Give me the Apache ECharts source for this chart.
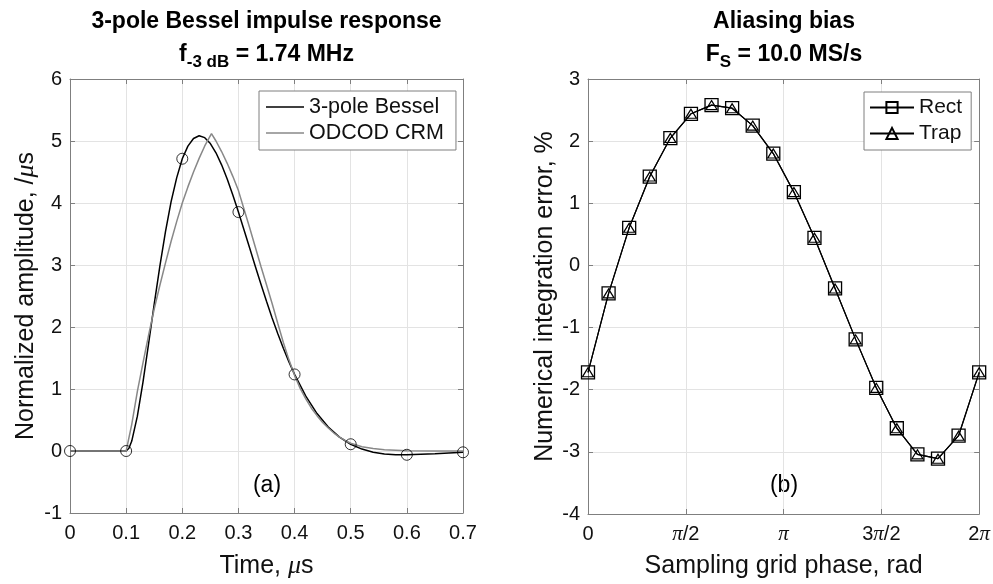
<!DOCTYPE html>
<html>
<head>
<meta charset="utf-8">
<script src="https://cdn.jsdelivr.net/npm/echarts@6/dist/echarts.min.js"></script>
<style>html,body{margin:0;padding:0;background:#fff}#c{width:993px;height:584px}</style>
</head>
<body>
<div id="c"></div>
<script>
// ---------- data (panel a) ----------
const tBessel = [0, 0.1, 0.105, 0.11, 0.12, 0.13, 0.14, 0.15, 0.16, 0.17, 0.18, 0.19, 0.20, 0.21, 0.22, 0.23, 0.24, 0.25, 0.26, 0.27, 0.28, 0.29, 0.30, 0.31, 0.32, 0.33, 0.34, 0.35, 0.36, 0.37, 0.38, 0.39, 0.40, 0.42, 0.44, 0.46, 0.48, 0.50, 0.52, 0.54, 0.56, 0.58, 0.60, 0.65, 0.70];
const vBessel = [0, 0, 0.045, 0.160, 0.562, 1.112, 1.733, 2.369, 2.979, 3.533, 4.017, 4.405, 4.714, 4.918, 5.041, 5.084, 5.054, 4.959, 4.810, 4.616, 4.386, 4.130, 3.854, 3.566, 3.273, 2.981, 2.693, 2.414, 2.147, 1.894, 1.657, 1.437, 1.235, 0.885, 0.604, 0.387, 0.224, 0.109, 0.031, -0.019, -0.047, -0.059, -0.061, -0.044, -0.021];
const tCrm = [0, 0.1, 0.11, 0.12, 0.13, 0.14, 0.15, 0.16, 0.17, 0.18, 0.19, 0.20, 0.21, 0.22, 0.23, 0.24, 0.252, 0.26, 0.27, 0.28, 0.29, 0.30, 0.31, 0.32, 0.33, 0.34, 0.35, 0.36, 0.37, 0.38, 0.39, 0.40, 0.41, 0.42, 0.43, 0.44, 0.45, 0.46, 0.47, 0.48, 0.49, 0.50, 0.52, 0.54, 0.56, 0.60, 0.65, 0.70];
const vCrm = [0, 0, 0.43, 0.96, 1.42, 1.87, 2.29, 2.67, 3.03, 3.38, 3.70, 4.0, 4.26, 4.5, 4.72, 4.92, 5.12, 5.0, 4.83, 4.64, 4.43, 4.2, 3.9, 3.6, 3.29, 2.98, 2.68, 2.38, 2.06, 1.75, 1.47, 1.22, 1.01, 0.84, 0.69, 0.57, 0.46, 0.37, 0.29, 0.225, 0.17, 0.125, 0.07, 0.04, 0.022, 0.006, 0.001, 0];
const tSamples = [0, 0.1, 0.2, 0.3, 0.4, 0.5, 0.6, 0.7];
const vSamples = [0, 0, 4.714, 3.854, 1.235, 0.109, -0.061, -0.021];

// ---------- data (panel b) ----------
const phase = [0, 0.3307, 0.6614, 0.9921, 1.3228, 1.6535, 1.9842, 2.3149, 2.6456, 2.9762, 3.3069, 3.6376, 3.9683, 4.2990, 4.6297, 4.9604, 5.2911, 5.6218, 5.9525, 6.2832];
const rectErr = [-1.72, -0.45, 0.605, 1.43, 2.05, 2.44, 2.58, 2.53, 2.25, 1.80, 1.18, 0.445, -0.37, -1.19, -1.97, -2.62, -3.04, -3.11, -2.74, -1.72];
const trapErr = [-1.72, -0.45, 0.605, 1.43, 2.05, 2.44, 2.58, 2.53, 2.25, 1.80, 1.18, 0.445, -0.37, -1.19, -1.97, -2.62, -3.04, -3.11, -2.74, -1.72];
const phaseTickLabels = ['0', '{p|π}/2', '{p|π}', '3{p|π}/2', '2{p|π}'];

const zip = (a, b) => a.map((x, i) => [x, b[i]]);
const FONT = 'Liberation Sans, Arial, Helvetica, sans-serif';
const SERIF = 'Liberation Serif, Times New Roman, serif';
const FRAME = '#7f7f7f';
const GRIDC = '#e3e3e3';
const TXT = '#111';
const TICK_FS = 20, NAME_FS = 25, TITLE_FS = 23;
const LINE_ICON = 'path://M0,0L40,0L40,1.6L0,1.6Z';

function baseAxis(extra) {
  return Object.assign({
    type: 'value',
    axisLine: { show: true, onZero: false, lineStyle: { color: FRAME, width: 1 } },
    axisTick: { show: true, inside: true, length: 5, lineStyle: { color: FRAME } },
    axisLabel: { show: true, color: TXT, fontSize: TICK_FS, fontFamily: FONT },
    splitLine: { show: true, lineStyle: { color: GRIDC, width: 1 } },
    nameTextStyle: { color: TXT, fontSize: NAME_FS, fontFamily: FONT }
  }, extra);
}
function mirrorAxis(extra) {
  return Object.assign({
    type: 'value',
    axisLine: { show: true, onZero: false, lineStyle: { color: FRAME, width: 1 } },
    axisTick: { show: true, inside: true, length: 5, lineStyle: { color: FRAME } },
    axisLabel: { show: false },
    splitLine: { show: false }
  }, extra);
}
const muRich = { m: { fontFamily: SERIF, fontStyle: 'italic', fontSize: NAME_FS + 1, color: TXT } };

const option = {
  animation: false,
  backgroundColor: '#fff',
  textStyle: { fontFamily: FONT },
  grid: [
    { left: 70, top: 79, width: 393, height: 436 },
    { left: 588, top: 79, width: 392, height: 436 }
  ],
  xAxis: [
    baseAxis({ gridIndex: 0, min: 0, max: 0.7, interval: 0.1, position: 'bottom',
      axisLabel: { color: TXT, fontSize: TICK_FS, fontFamily: FONT, margin: 10,
        formatter: v => v === 0 ? '0' : v.toFixed(1) },
      name: 'Time, {m|μ}s', nameLocation: 'middle', nameGap: 40,
      nameTextStyle: { color: TXT, fontSize: NAME_FS, fontFamily: FONT, rich: muRich } }),
    mirrorAxis({ gridIndex: 0, min: 0, max: 0.7, interval: 0.1, position: 'top' }),
    baseAxis({ gridIndex: 1, min: 0, max: 2 * Math.PI, interval: Math.PI / 2, position: 'bottom',
      axisLabel: { color: TXT, fontSize: TICK_FS, fontFamily: FONT, margin: 10,
        formatter: v => phaseTickLabels[Math.round(v / (Math.PI / 2))],
        rich: { p: { fontFamily: SERIF, fontStyle: 'italic', fontSize: TICK_FS + 1, color: TXT } } },
      name: 'Sampling grid phase, rad', nameLocation: 'middle', nameGap: 40 }),
    mirrorAxis({ gridIndex: 1, min: 0, max: 2 * Math.PI, interval: Math.PI / 2, position: 'top' })
  ],
  yAxis: [
    baseAxis({ gridIndex: 0, min: -1, max: 6, interval: 1, position: 'left',
      axisLabel: { color: TXT, fontSize: TICK_FS, fontFamily: FONT, margin: 8 },
      name: 'Normalized amplitude, /{m|μ}s', nameLocation: 'middle', nameGap: 31,
      nameTextStyle: { color: TXT, fontSize: NAME_FS, fontFamily: FONT, rich: muRich } }),
    mirrorAxis({ gridIndex: 0, min: -1, max: 6, interval: 1, position: 'right' }),
    baseAxis({ gridIndex: 1, min: -4, max: 3, interval: 1, position: 'left',
      axisLabel: { color: TXT, fontSize: TICK_FS, fontFamily: FONT, margin: 8 },
      name: 'Numerical integration error, %', nameLocation: 'middle', nameGap: 30 }),
    mirrorAxis({ gridIndex: 1, min: -4, max: 3, interval: 1, position: 'right' })
  ],
  legend: [
    { data: [{ name: '3-pole Bessel', icon: LINE_ICON }, { name: 'ODCOD CRM', icon: LINE_ICON }],
      orient: 'vertical', left: 259, top: 91,
      itemWidth: 38, itemHeight: 14, itemGap: 4, padding: [5, 12, 6, 7],
      borderColor: FRAME, borderWidth: 1, backgroundColor: '#fff',
      textStyle: { color: TXT, fontSize: 21.5, fontFamily: FONT }, selectedMode: false },
    { data: ['Rect', 'Trap'], orient: 'vertical', left: 864, top: 92,
      itemWidth: 44, itemHeight: 14, itemGap: 5, padding: [5, 9, 6, 5],
      borderColor: FRAME, borderWidth: 1, backgroundColor: '#fff',
      textStyle: { color: TXT, fontSize: 21, fontFamily: FONT }, selectedMode: false }
  ],
  series: [
    { name: '3-pole Bessel', type: 'line', xAxisIndex: 0, yAxisIndex: 0,
      data: zip(tBessel, vBessel), symbol: 'none', showSymbol: false,
      lineStyle: { color: '#000', width: 1.5 }, itemStyle: { color: '#000' }, z: 3 },
    { name: 'ODCOD CRM', type: 'line', xAxisIndex: 0, yAxisIndex: 0,
      data: zip(tCrm, vCrm), symbol: 'none', showSymbol: false,
      lineStyle: { color: '#888', width: 1.5 }, itemStyle: { color: '#888' }, z: 4 },
    { name: 'samples', type: 'scatter', xAxisIndex: 0, yAxisIndex: 0,
      data: zip(tSamples, vSamples), symbol: 'circle', symbolSize: 11,
      itemStyle: { color: 'rgba(0,0,0,0)', borderColor: '#000', borderWidth: 1 }, z: 5 },
    { name: 'Rect', type: 'line', xAxisIndex: 2, yAxisIndex: 2,
      data: zip(phase, rectErr), symbol: 'rect', symbolSize: 13, showAllSymbol: true,
      lineStyle: { color: '#000', width: 1.2 },
      itemStyle: { color: 'rgba(0,0,0,0)', borderColor: '#000', borderWidth: 1.3 }, z: 3 },
    { name: 'Trap', type: 'line', xAxisIndex: 2, yAxisIndex: 2,
      data: zip(phase, trapErr), symbol: 'triangle', symbolSize: [11, 9], showAllSymbol: true,
      lineStyle: { color: '#000', width: 1.2 },
      itemStyle: { color: 'rgba(0,0,0,0)', borderColor: '#000', borderWidth: 1.2 }, z: 4 }
  ],
  graphic: [
    { type: 'text', x: 266.5, y: 22, style: { text: '3-pole Bessel impulse response',
      font: 'bold ' + TITLE_FS + 'px ' + FONT, fill: '#000', align: 'center', verticalAlign: 'middle' } },
    { type: 'text', x: 266.5, y: 55, style: { text: '{b|f}{s|-3 dB}{b| = 1.74 MHz}',
      align: 'center', verticalAlign: 'middle', fill: '#000',
      rich: { b: { font: 'bold ' + TITLE_FS + 'px ' + FONT, fill: '#000' },
              s: { font: 'bold 17px ' + FONT, fill: '#000', padding: [14, 0, 0, 0] } } } },
    { type: 'text', x: 784, y: 22, style: { text: 'Aliasing bias',
      font: 'bold ' + TITLE_FS + 'px ' + FONT, fill: '#000', align: 'center', verticalAlign: 'middle' } },
    { type: 'text', x: 784, y: 55, style: { text: '{b|F}{s|S}{b| = 10.0 MS/s}',
      align: 'center', verticalAlign: 'middle', fill: '#000',
      rich: { b: { font: 'bold ' + TITLE_FS + 'px ' + FONT, fill: '#000' },
              s: { font: 'bold 17px ' + FONT, fill: '#000', padding: [14, 0, 0, 0] } } } },
    { type: 'text', x: 267, y: 486, style: { text: '(a)', font: '23px ' + FONT, fill: '#000',
      align: 'center', verticalAlign: 'middle' } },
    { type: 'text', x: 784, y: 486, style: { text: '(b)', font: '23px ' + FONT, fill: '#000',
      align: 'center', verticalAlign: 'middle' } }
  ]
};
const chart = echarts.init(document.getElementById('c'), null, { renderer: 'canvas' });
chart.setOption(option);
</script>
</body>
</html>
